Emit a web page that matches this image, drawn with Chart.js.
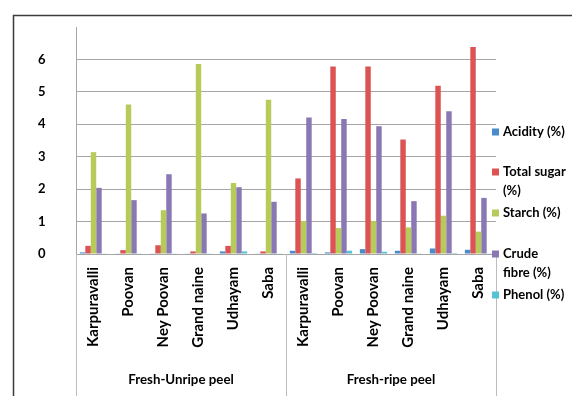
<!DOCTYPE html>
<html>
<head>
<meta charset="utf-8">
<script src="https://cdn.jsdelivr.net/npm/chart.js@4/dist/chart.umd.min.js"></script>
<style>
  html, body { margin: 0; padding: 0; background: #fff; }
  canvas { display: block; }
</style>
</head>
<body>
<canvas id="c" width="572" height="396"></canvas>
<script>
// Banana peel composition, two ripeness stages, six cultivars each
const cultivars = ['Karpuravalli', 'Poovan', 'Ney Poovan', 'Grand naine', 'Udhayam', 'Saba'];
const categories = cultivars.concat(cultivars);
const groups = ['Fresh-Unripe peel', 'Fresh-ripe peel'];

const acidity    = [0.05, 0.02, 0.02, 0.02, 0.08, 0.02,   0.10, 0.05, 0.15, 0.10, 0.17, 0.13];
const totalSugar = [0.25, 0.12, 0.27, 0.08, 0.25, 0.08,   2.33, 5.78, 5.78, 3.53, 5.19, 6.38];
const starch     = [3.14, 4.61, 1.35, 5.86, 2.19, 4.76,   1.02, 0.80, 1.02, 0.82, 1.18, 0.69];
const crudeFibre = [2.04, 1.66, 2.46, 1.25, 2.06, 1.61,   4.21, 4.16, 3.94, 1.63, 4.40, 1.73];
const phenol     = [0.01, 0.01, 0.01, 0.01, 0.08, 0.01,   0.03, 0.10, 0.07, 0.01, 0.03, 0.01];

const yTicks = [0, 1, 2, 3, 4, 5, 6];

const seriesNames = [['Acidity (%)'], ['Total sugar', '(%)'], ['Starch (%)'], ['Crude', 'fibre (%)'], ['Phenol (%)']];
const seriesColors = ['#4A8BC9', '#DB5453', '#B7CB5A', '#8A78B4', '#55C2D6'];
const seriesData = [acidity, totalSugar, starch, crudeFibre, phenol];

const FONT = 'Lato, "Open Sans", sans-serif';

// Frame, group dividers, group captions and the side legend
const decorations = {
  id: 'decorations',
  beforeDraw(chart) {
    const ctx = chart.ctx;
    ctx.save();
    ctx.strokeStyle = '#3a3a3a';
    ctx.lineWidth = 1.5;
    ctx.beginPath();
    ctx.moveTo(13.5, 396);
    ctx.lineTo(13.5, 15.5);
    ctx.lineTo(572, 15.5);
    ctx.stroke();
    ctx.restore();
  },
  afterDraw(chart) {
    const ctx = chart.ctx;
    const area = chart.chartArea;
    const x = chart.scales.x;
    const n = cultivars.length;
    ctx.save();
    // dividers between the two stages
    ctx.strokeStyle = '#BDBDBD';
    ctx.lineWidth = 1;
    const half = (x.getPixelForValue(1) - x.getPixelForValue(0)) / 2;
    const edges = [x.getPixelForValue(0) - half, x.getPixelForValue(n - 1) + half, x.getPixelForValue(2 * n - 1) + half];
    edges.forEach(px => {
      const xx = Math.round(px) + 0.5;
      ctx.beginPath();
      ctx.moveTo(xx, area.bottom);
      ctx.lineTo(xx, 396);
      ctx.stroke();
    });
    // stage captions
    ctx.fillStyle = '#000';
    ctx.font = 'bold 13.3px ' + FONT;
    ctx.textAlign = 'center';
    ctx.textBaseline = 'middle';
    groups.forEach((g, i) => {
      ctx.fillText(g, (edges[i] + edges[i + 1]) / 2, 380);
    });
    // legend
    const legendY = [132, 172, 213, 254, 295];
    ctx.textAlign = 'left';
    ctx.font = 'bold 13px ' + FONT;
    seriesNames.forEach((lines, i) => {
      ctx.fillStyle = seriesColors[i];
      ctx.fillRect(492, legendY[i] - 3.5, 7, 7);
      ctx.fillStyle = '#000';
      lines.forEach((t, j) => ctx.fillText(t, 503, legendY[i] + j * 18.5));
    });
    ctx.restore();
  }
};

new Chart(document.getElementById('c'), {
  type: 'bar',
  data: {
    labels: categories,
    datasets: seriesData.map((d, i) => ({
      label: seriesNames[i].join(' '),
      data: d,
      backgroundColor: seriesColors[i],
      borderWidth: 0,
      categoryPercentage: 0.78,
      barPercentage: 1.0
    }))
  },
  options: {
    responsive: false,
    animation: false,
    devicePixelRatio: 1,
    layout: { padding: { left: 38, right: 76, top: 27, bottom: 0 } },
    plugins: { legend: { display: false }, tooltip: { enabled: false } },
    scales: {
      x: {
        grid: { display: false, drawTicks: false },
        border: { display: true, color: '#A6A6A6', width: 1 },
        ticks: {
          autoSkip: false,
          minRotation: 90,
          maxRotation: 90,
          padding: 13,
          color: '#000',
          font: { family: FONT, size: 15, weight: 'bold' }
        },
        afterFit(scale) { scale.height = 142; }
      },
      y: {
        min: 0,
        max: 7,
        grid: {
          drawTicks: false,
          color: c => (c.tick && yTicks.includes(c.tick.value)) ? '#A6A6A6' : 'rgba(0,0,0,0)',
          lineWidth: 1
        },
        border: { display: true, color: '#A6A6A6', width: 1 },
        ticks: {
          stepSize: 1,
          padding: 3,
          crossAlign: 'far',
          color: '#000',
          font: { family: FONT, size: 13, weight: 'bold' },
          callback: v => yTicks.includes(v) ? String(v) : ''
        },
        afterFit(scale) { scale.width = 38; }
      }
    }
  },
  plugins: [decorations]
});
</script>
</body>
</html>
